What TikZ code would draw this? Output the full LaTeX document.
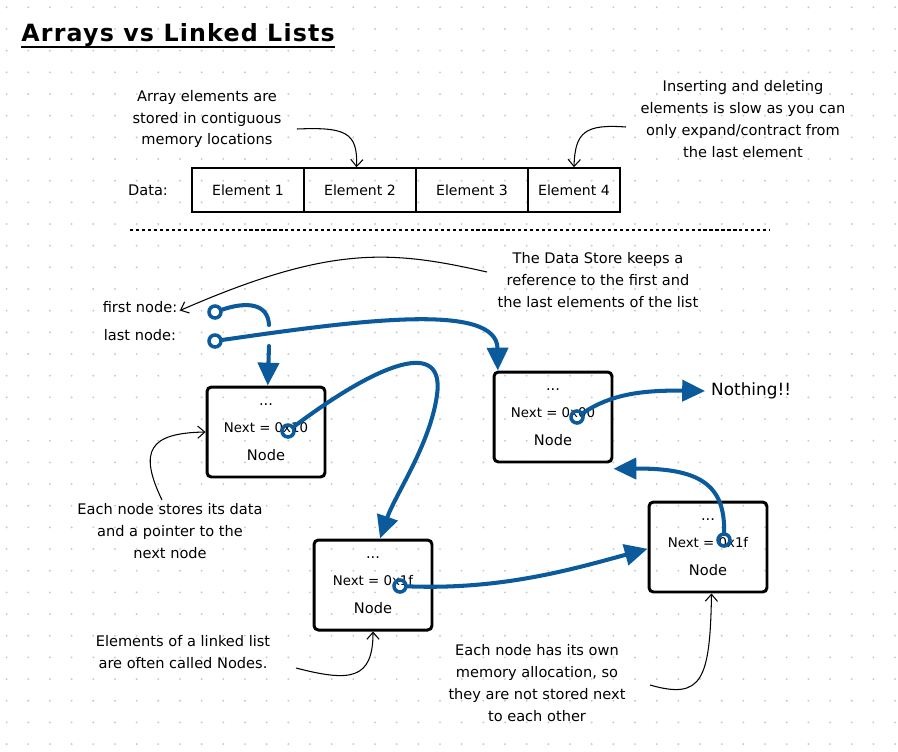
\documentclass[tikz,border=0pt]{standalone}
\usepackage{fontspec}
\setmainfont{DejaVu Sans}
\usetikzlibrary{arrows.meta}
\definecolor{linkblue}{HTML}{0B5A9C}
\definecolor{griddot}{HTML}{C8C8C8}

\begin{document}
\begin{tikzpicture}[x=0.02cm,y=-0.02cm,
  note/.style={align=center,font=\fontsize{8.3}{12.5}\selectfont},
  cell/.style={draw,line width=0.9pt,minimum height=0.88cm,inner sep=0pt,font=\fontsize{8}{10}\selectfont},
  list node/.style={draw,line width=1.7pt,rounded corners=2.5pt,minimum width=2.36cm,minimum height=1.8cm,
    align=center,font=\fontsize{8.3}{15.5}\selectfont},
  ptr/.style={circle,draw=linkblue,line width=2pt,minimum size=0.24cm,inner sep=0pt},
  link/.style={draw=linkblue,line width=2.3pt,line cap=round,-{Triangle[length=13pt,width=12pt]}},
  remark/.style={line width=0.6pt,-{Straight Barb[length=4pt,width=7pt]}}]
\useasboundingbox[fill=white] (0,0) rectangle (898,751);
% dotted grid
\foreach \i in {0,...,41}
  \foreach \j in {0,...,34}
    \fill[griddot] (6.6+21.67*\i,7.3+21.67*\j) circle (0.6pt);

% title
\node[anchor=base west,inner sep=0pt,font=\bfseries\fontsize{13.5}{16}\selectfont\addfontfeature{LetterSpace=5}] (title) at (21,41) {Arrays vs Linked Lists};
\draw[line width=1.2pt] ([yshift=-3.5pt]title.base west) -- ([yshift=-3.5pt]title.base east);

% array part
\node[note] (arraynote) at (207,119) {Array elements are\\stored in contiguous\\memory locations};
\node[note] (slownote) at (743,119) {Inserting and deleting\\elements is slow as you can\\only expand/contract from\\the last element};
\node[note] (datalabel) at (148,190) {Data:};
\node[cell,minimum width=2.24cm] (cell1) at (248,190) {Element 1};
\node[cell,minimum width=2.24cm] (cell2) at (360,190) {Element 2};
\node[cell,minimum width=2.24cm] (cell3) at (472,190) {Element 3};
\node[cell,minimum width=1.84cm] (cell4) at (574,190) {Element 4};
\coordinate (arraynote end) at (297,129);
\coordinate (slownote end) at (626,127);
\draw[remark] (arraynote end) .. controls (345,127) and (358,132) .. ([xshift=-2pt]cell2.north);
\draw[remark] (slownote end) .. controls (585,124) and (575,132) .. (cell4.north);

\draw[line width=0.6pt,dash pattern=on 1.8pt off 1.6pt] (130,230) -- (770,230);

% linked list part
\node[note] (storenote) at (598,280) {The Data Store keeps a\\reference to the first and\\the last elements of the list};
\node[note] (firstlabel) at (140,307) {first node:};
\node[note] (lastlabel) at (140,335) {last node:};
\node[ptr] (firstptr) at (215,312) {};
\node[ptr] (lastptr) at (215,341) {};

\node[list node] (nodeA) at (266,432) {...\\{\fontsize{7.6}{15.5}\selectfont Next = 0x10}\\Node};
\node[list node] (nodeB) at (373,585) {...\\{\fontsize{7.6}{15.5}\selectfont Next = 0x1f}\\Node};
\node[list node] (nodeC) at (708,547) {...\\{\fontsize{7.6}{15.5}\selectfont Next = 0x1f}\\Node};
\node[list node] (nodeD) at (553,417) {...\\{\fontsize{7.6}{15.5}\selectfont Next = 0x00}\\Node};
\node[ptr] (ptrA) at (288,431) {};
\node[ptr] (ptrB) at (400,586) {};
\node[ptr] (ptrC) at (724,540) {};
\node[ptr] (ptrD) at (577,417) {};
\node[anchor=west,font=\fontsize{9.6}{11}\selectfont] (nothing) at (705,391) {Nothing!!};

% blue links
\coordinate (firstbend) at (269,325);
\coordinate (firstgap) at (269,346);
\draw[draw=linkblue,line width=2.3pt,line cap=round] (firstptr) .. controls (248,301) and (268,304) .. (firstbend);
\draw[link] (firstgap) -- ([xshift=1pt]nodeA.north);
\draw[link] (lastptr) .. controls (360,320) and (497,302) .. ([xshift=3pt]nodeD.north west);
\draw[link] (ptrA) .. controls (380,362) and (445,338) .. (437,395) .. controls (430,445) and (395,495) .. ([xshift=4pt]nodeB.north);
\draw[link] (ptrB) .. controls (500,590) and (570,570) .. ([yshift=-1pt]nodeC.west);
\draw[link] (ptrC) .. controls (725,485) and (700,468) .. ([yshift=-3pt]nodeD.south east);
\draw[link] (ptrD) .. controls (610,395) and (640,390) .. (nothing.west);

% remarks
\node[note] (eachnote) at (170,531) {Each node stores its data\\and a pointer to the\\next node};
\node[note] (elemnote) at (183,652) {Elements of a linked list\\are often called Nodes.};
\node[note] (memnote) at (537,683) {Each node has its own\\memory allocation, so\\they are not stored next\\to each other};
\coordinate (storenote end) at (487,272);
\coordinate (eachnote end) at (162,500);
\coordinate (elemnote end) at (296,668);
\coordinate (memnote end) at (650,685);
\draw[remark] (storenote end) .. controls (390,250) and (330,245) .. ([xshift=-2pt,yshift=-2pt]firstlabel.east);
\draw[remark] (eachnote end) .. controls (138,450) and (150,433) .. (nodeA.west);
\draw[remark] (elemnote end) .. controls (350,682) and (373,680) .. (nodeB.south);
\draw[remark] (memnote end) .. controls (702,700) and (710,680) .. ([xshift=2pt]nodeC.south);
\end{tikzpicture}
\end{document}
